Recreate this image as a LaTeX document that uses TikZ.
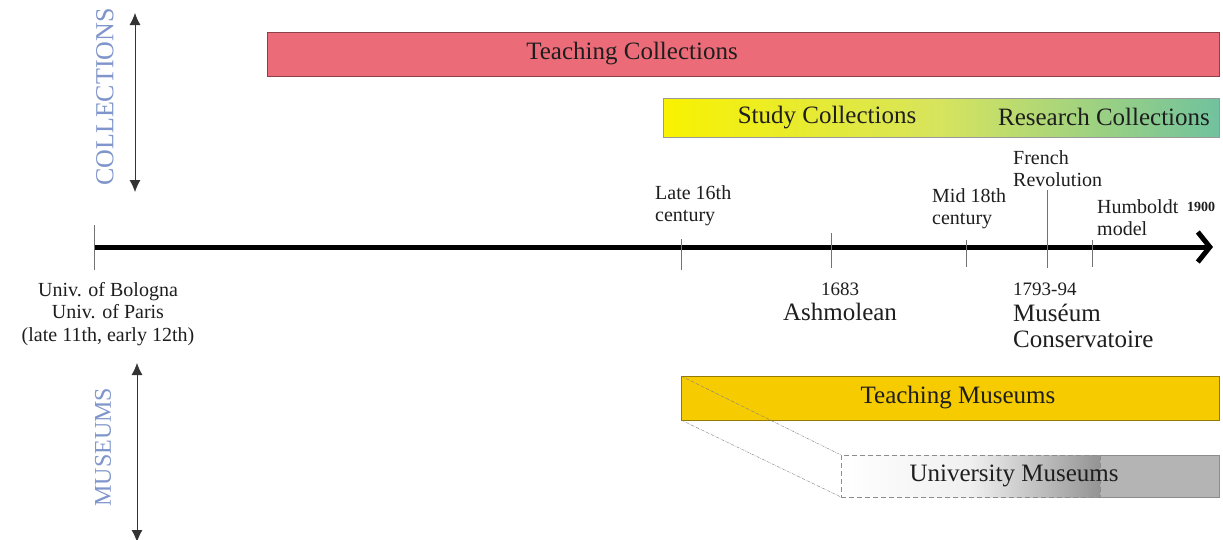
\documentclass[tikz,border=0pt]{standalone}
\usepackage{fontspec}
\setmainfont{Liberation Serif}
\usetikzlibrary{arrows.meta,positioning}
\definecolor{tcoll}{HTML}{EC6B78}
\definecolor{styel}{HTML}{F9F200}
\definecolor{stmid}{HTML}{D6E45E}
\definecolor{stgreen}{HTML}{70C29E}
\definecolor{tmus}{HTML}{F6CB00}
\definecolor{umgrey}{HTML}{B4B4B4}
\definecolor{axisblue}{HTML}{7F95CB}
\definecolor{ink}{HTML}{1E1E1E}
\tikzset{band/.style={anchor=north west,inner sep=0pt,outer sep=0pt,minimum height=#1},
  big/.style={text=ink,font=\fontsize{25}{26}\selectfont,inner sep=0pt},
  small/.style={text=ink,font=\fontsize{20}{22.5}\selectfont,inner sep=0pt,align=left,anchor=north west},
  side/.style={rotate=90,text=axisblue,inner sep=0pt},
  tick/.style={draw=black!55,line width=1pt},
  span/.style={draw=black!80,line width=0.8pt,{Latex[length=12pt,width=11pt]}-{Latex[length=12pt,width=11pt]}}}

\begin{document}
\begin{tikzpicture}[x=1pt,y=-1pt]
    \useasboundingbox[fill=white] (0,0) rectangle (1223,539);
    % side axes
    \coordinate (colTop) at (135,13);
    \coordinate (colBot) at (135,192);
    \draw[span] (colTop) -- (colBot);
    \node[side,font=\fontsize{26}{26}\selectfont] (colLabel) at (105,97) {COLLECTIONS};
    \coordinate (musTop) at (137,363);
    \coordinate (musBot) at (137,542);
    \draw[span] (musTop) -- (musBot);
    \node[side,font=\fontsize{24}{24}\selectfont] (musLabel) at (103,447) {MUSEUMS};
    % collections
    \node[band=44pt,minimum width=952pt,fill=tcoll,draw=tcoll!60!black] (teachColl) at (267,32) {};
    \node[big] (teachCollTxt) at (632,54) {Teaching Collections};
    \node[band=39pt,minimum width=556pt,left color=styel,right color=stgreen,middle color=stmid,draw=black!40] (studyColl) at (663,98) {};
    \node[big] (studyTxt) at (827,118) {Study Collections};
    \node[big] (researchTxt) at (1104,117) {Research Collections};
    % timeline
    \coordinate (tStart) at (94,247);
    \coordinate (tEnd) at (1213,247);
    \draw[line width=5pt,-{Straight Barb[length=12pt,width=30pt]}] (tStart) -- (tEnd);
    \foreach \x/\a/\b in {94/225/270,681/239/270,831/233/268,966/240/267,1047/190/268,1092/240/267}
        \draw[tick] (\x,\a) -- (\x,\b);
    \node[small] (late16) at (655,185) {Late 16th\\century};
    \node[small] (mid18) at (932,188) {Mid 18th\\century};
    \node[small] (frRev) at (1013,150) {French\\Revolution};
    \node[small] (humb) at (1097,199) {Humboldt\\model};
    \node[text=ink,font=\bfseries\fontsize{14}{15}\selectfont,inner sep=0pt,anchor=base west] (y1900) at (1187,211) {1900};
    \node[small,align=center,anchor=north] (bologna) at (108,282) {Univ. of Bologna\\Univ. of Paris\\(late 11th, early 12th)};
    \node[small,align=center,anchor=north,font=\fontsize{25}{25}\selectfont] (ashm) at (840,283) {{\fontsize{19}{19}\selectfont 1683}\\Ashmolean};
    \node[small,anchor=north west,font=\fontsize{25}{26}\selectfont] (museum) at (1013,283) {{\fontsize{19}{19}\selectfont 1793-94}\\Muséum\\Conservatoire};
    % museums
    \node[band=44pt,minimum width=538pt,fill=tmus,draw=tmus!60!black] (teachMus) at (681,376) {};
    \node[big] (teachMusTxt) at (958,398) {Teaching Museums};
    \node[band=42pt,minimum width=119pt,fill=umgrey] (uniMusOld) at (1100,455) {};
    \draw[black!45] (uniMusOld.north west) -| (uniMusOld.south east) -- (uniMusOld.south west);
    \node[band=42pt,minimum width=259pt,left color=white,right color=black!42,middle color=black!6,draw=black!45,dash pattern=on 5pt off 3pt] (uniMus) at (841,455) {};
    \node[big] (uniMusTxt) at (1014,476) {University Museums};
    \draw[black!50,dash pattern=on 3pt off 1pt on 0.6pt off 1pt] (teachMus.north west) -- (uniMus.north west);
    \draw[black!50,dash pattern=on 3pt off 1pt on 0.6pt off 1pt] (teachMus.south west) -- (uniMus.south west);
\end{tikzpicture}
\end{document}
